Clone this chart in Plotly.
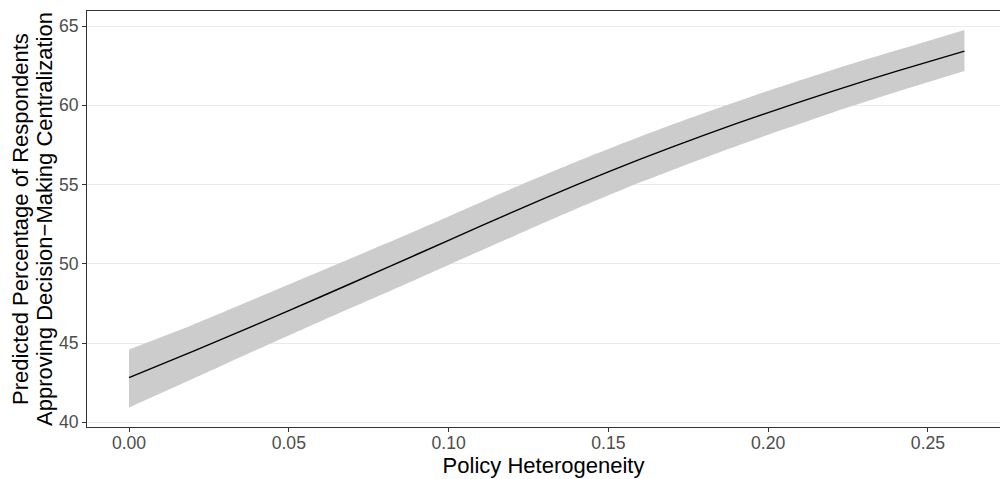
import plotly.graph_objects as go

# Data
heterogeneity = [0.00, 0.02, 0.04, 0.06, 0.08, 0.10, 0.12, 0.14, 0.16, 0.18, 0.20, 0.22, 0.24, 0.2614]
predicted = [42.82, 44.48, 46.18, 47.92, 49.69, 51.48, 53.26, 54.98, 56.60, 58.12, 59.54, 60.88, 62.14, 63.42]
upper = [44.59, 46.15, 47.84, 49.54, 51.24, 52.99, 54.76, 56.44, 58.03, 59.51, 60.91, 62.23, 63.45, 64.75]
lower = [40.93, 42.74, 44.58, 46.38, 48.14, 49.93, 51.71, 53.47, 55.14, 56.68, 58.14, 59.53, 60.83, 62.16]

x_ticks = [0.00, 0.05, 0.10, 0.15, 0.20, 0.25]
x_ticklabels = ["0.00", "0.05", "0.10", "0.15", "0.20", "0.25"]
y_ticks = [40, 45, 50, 55, 60, 65]
y_ticklabels = ["40", "45", "50", "55", "60", "65"]

x_title = "Policy Heterogeneity"
y_title_lines = ["Predicted Percentage of Respondents",
                 "Approving Decision\u2212Making Centralization"]

FONT = "Liberation Sans, Arial, sans-serif"
TICK_SIZE = 17.6
TITLE_SIZE = 22

W, H = 1000, 479
ML, MR, MT, MB = 87, 0, 11, 52
PW = W - ML - MR

fig = go.Figure()
fig.add_trace(go.Scatter(
    x=heterogeneity, y=lower, mode="lines",
    line=dict(width=0, shape="spline", smoothing=0.8),
    hoverinfo="skip", showlegend=False,
))
fig.add_trace(go.Scatter(
    x=heterogeneity, y=upper, mode="lines",
    line=dict(width=0, shape="spline", smoothing=0.8),
    fill="tonexty", fillcolor="rgb(204,204,204)",
    hoverinfo="skip", showlegend=False,
))
fig.add_trace(go.Scatter(
    x=heterogeneity, y=predicted, mode="lines",
    line=dict(color="black", width=1.4, shape="spline", smoothing=0.8),
    showlegend=False,
))

fig.update_layout(
    width=W, height=H,
    margin=dict(l=ML, r=MR, t=MT, b=MB),
    paper_bgcolor="white", plot_bgcolor="white",
    font=dict(family=FONT),
)
fig.update_xaxes(
    range=[-0.01314, 0.27253],
    tickvals=x_ticks, ticktext=x_ticklabels,
    showgrid=False, zeroline=False,
    showline=True, linecolor="#333333", linewidth=1, mirror=True,
    ticks="outside", ticklen=4, tickcolor="#333333", tickwidth=1,
    ticklabelstandoff=-4,
    tickfont=dict(size=TICK_SIZE, color="#4D4D4D", family=FONT),
    title=dict(text=x_title, font=dict(size=TITLE_SIZE, color="black", family=FONT), standoff=2),
    automargin=False,
)
fig.update_yaxes(
    range=[39.703, 65.947],
    tickvals=y_ticks, ticktext=y_ticklabels,
    showgrid=True, gridcolor="#EBEBEB", gridwidth=1, zeroline=False,
    showline=True, linecolor="#333333", linewidth=1,
    ticks="outside", ticklen=4, tickcolor="#333333", tickwidth=1,
    tickfont=dict(size=TICK_SIZE, color="#4D4D4D", family=FONT),
    automargin=False,
)

# two-line y title with tight line spacing (screen x centres ~20 and ~44)
for txt, sx in zip(y_title_lines, [20, 44]):
    fig.add_annotation(
        text=txt, textangle=-90,
        xref="paper", yref="paper",
        x=(sx - ML) / PW, y=0.5,
        xanchor="center", yanchor="middle",
        showarrow=False,
        font=dict(size=TITLE_SIZE, color="black", family=FONT),
    )

fig.write_html(
    "out.html",
    config={"displayModeBar": False},
    post_script="document.body.style.margin='0';document.body.style.overflow='hidden';",
)
